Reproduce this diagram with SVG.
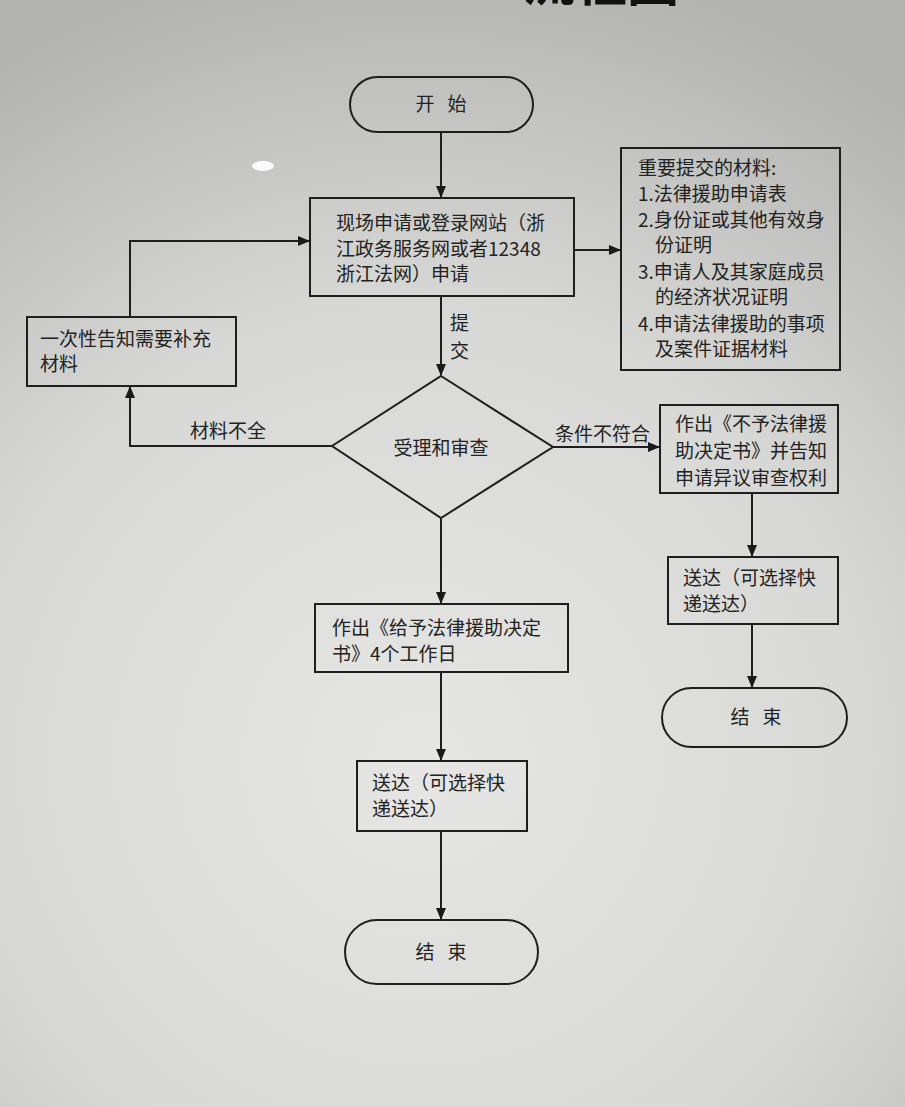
<svg xmlns="http://www.w3.org/2000/svg" width="905" height="1107" viewBox="0 0 905 1107">
<defs>
<radialGradient id="bg" cx="420" cy="760" r="820" gradientUnits="userSpaceOnUse">
<stop offset="0" stop-color="#e6e6e4"/>
<stop offset="0.55" stop-color="#d8d8d6"/>
<stop offset="1" stop-color="#b2b2b0"/>
</radialGradient>
<marker id="arr" markerWidth="12" markerHeight="10" refX="11" refY="5" orient="auto" markerUnits="userSpaceOnUse">
<path d="M0,0 L12,5 L0,10 Z" fill="#1a1a1a"/>
</marker>
<style>
.s{fill:none;stroke:#1e1e1e;stroke-width:2}
.c{fill:none;stroke:#1e1e1e;stroke-width:2;marker-end:url(#arr)}
text{font-family:"Noto Sans CJK SC","Noto Sans",sans-serif;font-size:19px;fill:#222}
.m{text-anchor:middle;white-space:pre}
.t{font-size:52px;font-weight:bold;fill:#111}
</style>
</defs>
<rect width="905" height="1107" fill="url(#bg)"/>
<ellipse cx="263" cy="166" rx="11" ry="5" fill="#fafafa"/>
<text class="t" x="523" y="1">流程图</text>

<g id="connectors">
<path class="c" d="M441,132 L441,197"/>
<path class="c" d="M574,250 L620,250"/>
<path class="c" d="M441,296 L441,375"/>
<text x="450" y="330">提</text>
<text x="450" y="358">交</text>
<path class="c" d="M130,317 L130,241 L309,241"/>
<path class="c" d="M332,446 L130,446 L130,387"/>
<text x="190" y="438">材料不全</text>
<path class="c" d="M553,447 L659,447"/>
<text x="555" y="441">条件不符合</text>
<path class="c" d="M752,493 L752,556"/>
<path class="c" d="M752,624 L752,687"/>
<path class="c" d="M441,518 L441,603"/>
<path class="c" d="M441,672 L441,760"/>
<path class="c" d="M441,831 L441,919"/>
</g>

<g id="start">
<rect class="s" x="350" y="77" width="183" height="55" rx="27.5"/>
<text class="m" x="441" y="111" xml:space="preserve">开   始</text>
</g>

<g id="apply">
<rect class="s" x="310" y="198" width="264" height="98"/>
<text x="336" y="230">现场申请或登录网站（浙</text>
<text x="336" y="256">江政务服务网或者12348</text>
<text x="336" y="281">浙江法网）申请</text>
</g>

<g id="materials">
<rect class="s" x="621" y="148" width="219" height="222"/>
<text x="638" y="175">重要提交的材料:</text>
<text x="638" y="201">1.法律援助申请表</text>
<text x="638" y="227">2.身份证或其他有效身</text>
<text x="655" y="252">份证明</text>
<text x="638" y="279">3.申请人及其家庭成员</text>
<text x="655" y="304">的经济状况证明</text>
<text x="638" y="331">4.申请法律援助的事项</text>
<text x="655" y="356">及案件证据材料</text>
</g>

<g id="notify">
<rect class="s" x="27" y="317" width="209" height="69"/>
<text x="40" y="346">一次性告知需要补充</text>
<text x="40" y="371">材料</text>
</g>

<g id="review">
<path class="s" d="M441,376 L553,447 L441,518 L332,446 Z"/>
<text class="m" x="441" y="455">受理和审查</text>
</g>

<g id="deny">
<rect class="s" x="660" y="405" width="178" height="88"/>
<text x="675" y="431">作出《不予法律援</text>
<text x="675" y="458">助决定书》并告知</text>
<text x="675" y="485">申请异议审查权利</text>
</g>

<g id="deliver2">
<rect class="s" x="668" y="557" width="170" height="67"/>
<text x="683" y="585">送达（可选择快</text>
<text x="683" y="611">递送达）</text>
</g>

<g id="end2">
<rect class="s" x="662" y="688" width="185" height="59" rx="29.5"/>
<text class="m" x="756" y="724" xml:space="preserve">结   束</text>
</g>

<g id="grant">
<rect class="s" x="315" y="604" width="253" height="68"/>
<text x="332" y="635">作出《给予法律援助决定</text>
<text x="332" y="661">书》4个工作日</text>
</g>

<g id="deliver1">
<rect class="s" x="357" y="761" width="170" height="70"/>
<text x="372" y="790">送达（可选择快</text>
<text x="372" y="816">递送达）</text>
</g>

<g id="end1">
<rect class="s" x="345" y="920" width="193" height="64" rx="32"/>
<text class="m" x="441" y="959" xml:space="preserve">结   束</text>
</g>
</svg>
